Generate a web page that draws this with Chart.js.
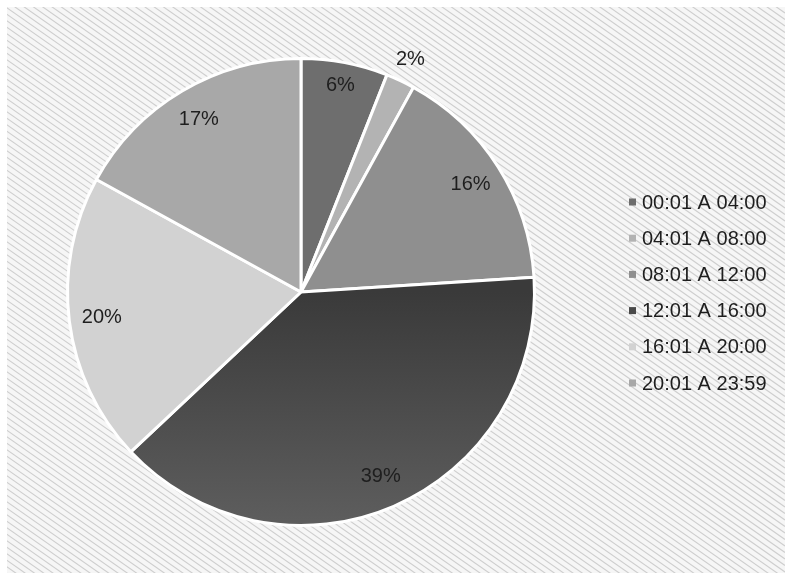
<!DOCTYPE html>
<html>
<head>
<meta charset="utf-8">
<script src="https://cdn.jsdelivr.net/npm/chart.js@4.4.1/dist/chart.umd.min.js"></script>
<style>
  html, body { margin: 0; padding: 0; background: #ffffff; }
  #wrap { width: 785px; height: 573px; position: relative; }
</style>
</head>
<body>
<div id="wrap"><canvas id="c" width="785" height="573"></canvas></div>
<script>
const categories = ['00:01 A 04:00', '04:01 A 08:00', '08:01 A 12:00', '12:01 A 16:00', '16:01 A 20:00', '20:01 A 23:59'];
const shares = [6, 2, 16, 39, 20, 17];
const sliceColors = ['#6e6e6e', '#b3b3b3', '#8f8f8f', '#4a4a4a', '#d2d2d2', '#a8a8a8'];

const FONT = '"Liberation Sans", Arial, sans-serif';

const hatchBackground = {
  id: 'hatchBackground',
  beforeDraw(chart) {
    const ctx = chart.ctx, W = chart.width, H = chart.height;
    ctx.save();
    ctx.fillStyle = '#ffffff';
    ctx.fillRect(0, 0, W, H);
    ctx.beginPath();
    ctx.rect(7, 7, W, H);
    ctx.clip();
    ctx.fillStyle = '#f6f6f6';
    ctx.fillRect(0, 0, W, H);
    ctx.strokeStyle = 'rgba(150,150,150,0.42)';
    ctx.lineWidth = 1.1;
    const slope = 0.7;
    for (let c = -W * slope; c < H + 10; c += 6.5) {
      ctx.beginPath();
      ctx.moveTo(0, c);
      ctx.lineTo(W, c + W * slope);
      ctx.stroke();
    }
    ctx.restore();
  }
};

const sliceLabels = {
  id: 'sliceLabels',
  afterDatasetsDraw(chart) {
    const ctx = chart.ctx;
    const meta = chart.getDatasetMeta(0);
    const data = chart.data.datasets[0].data;
    const total = data.reduce((a, b) => a + b, 0);
    ctx.save();
    ctx.font = '20px ' + FONT;
    ctx.fillStyle = '#1e1e1e';
    ctx.textAlign = 'center';
    ctx.textBaseline = 'middle';
    meta.data.forEach((arc, i) => {
      const p = arc.getProps(['x', 'y', 'startAngle', 'endAngle', 'outerRadius'], true);
      const mid = (p.startAngle + p.endAngle) / 2;
      const frac = data[i] / total;
      const k = frac < 0.03 ? 1.1 : (frac < 0.08 ? 0.9 : 0.86);
      const r = p.outerRadius * k;
      ctx.fillText(data[i] + '%', p.x + Math.cos(mid) * r, p.y + Math.sin(mid) * r);
    });
    ctx.restore();
  }
};

const sideLegend = {
  id: 'sideLegend',
  afterDraw(chart) {
    const ctx = chart.ctx;
    const labels = chart.data.labels;
    const colors = chart.data.datasets[0].legendColors;
    const x0 = 629, y0 = 202, step = 36.2;
    ctx.save();
    ctx.font = '20px ' + FONT;
    ctx.textAlign = 'left';
    ctx.textBaseline = 'middle';
    labels.forEach((lab, i) => {
      const y = y0 + i * step;
      ctx.fillStyle = colors[i];
      ctx.fillRect(x0, y - 3.5, 7, 7);
      ctx.fillStyle = '#1e1e1e';
      ctx.fillText(lab, x0 + 13, y + 1);
    });
    ctx.restore();
  }
};

new Chart(document.getElementById('c'), {
  type: 'pie',
  data: {
    labels: categories,
    datasets: [{
      data: shares,
      legendColors: sliceColors,
      backgroundColor: (ctx) => {
        const i = ctx.dataIndex;
        const chart = ctx.chart;
        if (i === 3 && chart.chartArea) {
          const a = chart.chartArea;
          const g = chart.ctx.createLinearGradient(0, (a.top + a.bottom) / 2, 0, a.bottom);
          g.addColorStop(0, '#3a3a3a');
          g.addColorStop(1, '#5e5e5e');
          return g;
        }
        return sliceColors[i];
      },
      borderColor: '#ffffff',
      borderWidth: 3
    }]
  },
  options: {
    responsive: false,
    animation: false,
    rotation: 0,
    layout: { padding: { left: 66, right: 249, top: 57, bottom: 46 } },
    plugins: {
      legend: { display: false },
      tooltip: { enabled: false }
    }
  },
  plugins: [hatchBackground, sliceLabels, sideLegend]
});
</script>
</body>
</html>
